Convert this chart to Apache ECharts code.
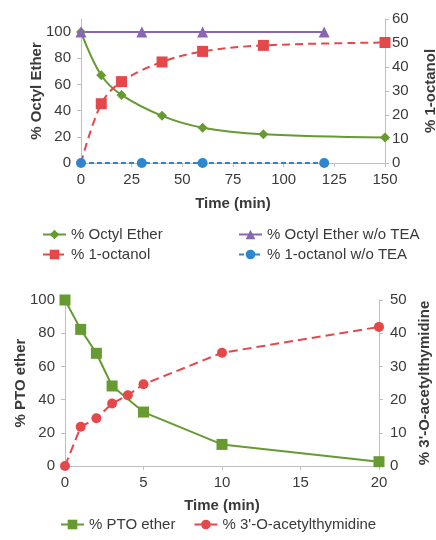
<!DOCTYPE html>
<html>
<head>
<meta charset="utf-8">
<script src="https://cdn.jsdelivr.net/npm/echarts@6/dist/echarts.min.js"></script>
<style>
  html, body { margin: 0; padding: 0; background: #fff; }
  #chart { width: 436px; height: 540px; }
</style>
</head>
<body>
<div id="chart"></div>
<script>
// top chart: octyl ether cleavage
const octylTime = [0, 10, 20, 40, 60, 90, 150]
const octylEther = [100, 67, 52, 36, 27, 22, 19.5]
const octanol = [0, 24.7, 33.9, 42.1, 46.5, 49, 50.2]
const noTeaTime = [0, 30, 60, 120]
const octylEtherNoTea = [100, 100, 100, 100]
const octanolNoTea = [0, 0, 0, 0]
const topLeftTicks = [0, 20, 40, 60, 80, 100]

// bottom chart: PTO ether
const ptoTime = [0, 1, 2, 3, 5, 10, 20]
const ptoEther = [100, 82.3, 67.9, 48.2, 32.5, 13, 2.6]
const acetylTime = [0, 1, 2, 3, 4, 5, 10, 20]
const acetylThymidine = [0, 11.8, 14.4, 18.8, 21.3, 24.6, 34.1, 41.9]

const pairs = (xs, ys) => xs.map((x, i) => [x, ys[i]])

const GREEN = '#679a30'
const RED = '#e5484b'
const PURPLE = '#8766b3'
const BLUE = '#2f86cf'
const TEXT = '#3a3a3a'
const AXIS = '#bfbfbf'
const FONT = "'Liberation Sans', Arial, sans-serif"

const axisBase = {
  axisLine: { show: true, lineStyle: { color: AXIS, width: 1 } },
  axisTick: { show: true, inside: false, length: 4, lineStyle: { color: AXIS } },
  splitLine: { show: false },
  axisLabel: { color: TEXT, fontSize: 15, fontFamily: FONT },
  nameTextStyle: { color: TEXT, fontSize: 15, fontWeight: 'bold', fontFamily: FONT },
  nameLocation: 'middle',
  nameMoveOverlap: false
}

const legendText = { color: TEXT, fontSize: 15, fontFamily: FONT }

// the t=0 marker of 1-octanol sits under the w/o TEA circle in the original
const octanolData = pairs(octylTime, octanol)
octanolData[0] = { value: octanolData[0], symbol: 'none' }

const chart = echarts.init(document.getElementById('chart'), null, { renderer: 'canvas' })

chart.setOption({
  animation: false,
  backgroundColor: '#fff',
  textStyle: { fontFamily: FONT },
  grid: [
    { left: 81, right: 51, top: 19, height: 144, outerBoundsMode: 'none' },
    { left: 65, right: 57, top: 300, height: 166, outerBoundsMode: 'none' }
  ],
  xAxis: [
    { ...axisBase, type: 'value', gridIndex: 0, min: 0, max: 150, interval: 25,
      name: 'Time (min)', nameGap: 33, axisLabel: { ...axisBase.axisLabel, margin: 9 } },
    { ...axisBase, type: 'value', gridIndex: 1, min: 0, max: 20, interval: 5,
      name: 'Time (min)', nameGap: 32, axisLabel: { ...axisBase.axisLabel, margin: 9 } }
  ],
  yAxis: [
    { ...axisBase, type: 'value', gridIndex: 0, position: 'left', min: 0, max: 110, interval: 10,
      name: '% Octyl Ether', nameGap: 37,
      axisLabel: { ...axisBase.axisLabel, margin: 10, customValues: topLeftTicks },
      axisTick: { ...axisBase.axisTick, customValues: topLeftTicks } },
    { ...axisBase, type: 'value', gridIndex: 0, position: 'right', min: 0, max: 60, interval: 10,
      name: '% 1-octanol', nameGap: 38, axisLabel: { ...axisBase.axisLabel, margin: 7 } },
    { ...axisBase, type: 'value', gridIndex: 1, position: 'left', min: 0, max: 100, interval: 20,
      name: '% PTO ether', nameGap: 37, axisLabel: { ...axisBase.axisLabel, margin: 10 } },
    { ...axisBase, type: 'value', gridIndex: 1, position: 'right', min: 0, max: 50, interval: 10,
      name: "% 3'-O-acetylthymidine", nameGap: 38, axisLabel: { ...axisBase.axisLabel, margin: 11 } }
  ],
  legend: [
    { orient: 'vertical', left: 42, top: 227, padding: 0, itemWidth: 23, itemHeight: 12, itemGap: 5,
      textStyle: legendText, data: ['% Octyl Ether', '% 1-octanol'] },
    { orient: 'vertical', left: 238, top: 227, padding: 0, itemWidth: 23, itemHeight: 12, itemGap: 5,
      textStyle: legendText, data: ['% Octyl Ether w/o TEA', '% 1-octanol w/o TEA'] },
    { orient: 'horizontal', left: 60, top: 517, padding: 0, itemWidth: 23, itemHeight: 12, itemGap: 18,
      textStyle: legendText, data: ['% PTO ether', "% 3'-O-acetylthymidine"] }
  ],
  series: [
    {
      name: '% Octyl Ether', type: 'line', xAxisIndex: 0, yAxisIndex: 0, smooth: 0.35,
      symbol: 'diamond', symbolSize: 10, itemStyle: { color: GREEN },
      lineStyle: { color: GREEN, width: 2 },
      data: pairs(octylTime, octylEther)
    },
    {
      name: '% Octyl Ether w/o TEA', type: 'line', xAxisIndex: 0, yAxisIndex: 0,
      symbol: 'triangle', symbolSize: 11, itemStyle: { color: PURPLE },
      lineStyle: { color: PURPLE, width: 2 },
      data: pairs(noTeaTime, octylEtherNoTea)
    },
    {
      name: '% 1-octanol', type: 'line', xAxisIndex: 0, yAxisIndex: 1, smooth: 0.35,
      symbol: 'rect', symbolSize: 11, itemStyle: { color: RED },
      lineStyle: { color: RED, width: 2, type: [8, 5] },
      data: octanolData
    },
    {
      name: '% 1-octanol w/o TEA', type: 'line', xAxisIndex: 0, yAxisIndex: 1,
      symbol: 'circle', symbolSize: 10, itemStyle: { color: BLUE },
      lineStyle: { color: BLUE, width: 2, type: [5, 3] },
      data: pairs(noTeaTime, octanolNoTea)
    },
    {
      name: '% PTO ether', type: 'line', xAxisIndex: 1, yAxisIndex: 2,
      symbol: 'rect', symbolSize: 11, itemStyle: { color: GREEN },
      lineStyle: { color: GREEN, width: 2 },
      data: pairs(ptoTime, ptoEther)
    },
    {
      name: "% 3'-O-acetylthymidine", type: 'line', xAxisIndex: 1, yAxisIndex: 3,
      symbol: 'circle', symbolSize: 10, itemStyle: { color: RED },
      lineStyle: { color: RED, width: 2, type: [9, 5] },
      data: pairs(acetylTime, acetylThymidine)
    }
  ]
})
</script>
</body>
</html>
